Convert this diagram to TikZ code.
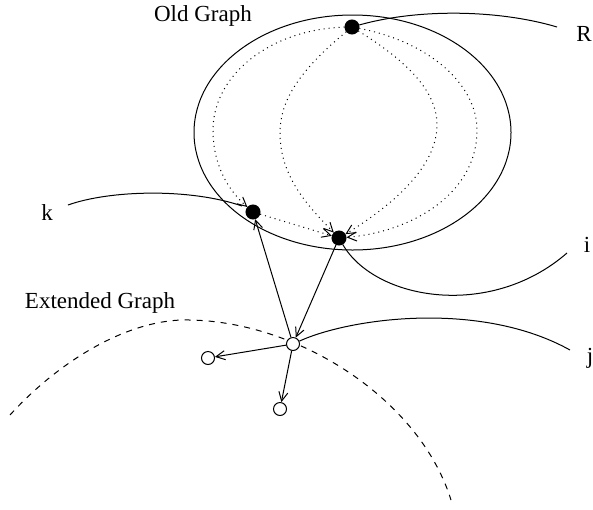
\documentclass[tikz,border=0pt]{standalone}
\usepackage{fontspec}
\setmainfont{Liberation Serif}
\usetikzlibrary{arrows.meta}
\begin{document}
\begin{tikzpicture}[x=0.5pt,y=-0.5pt,line width=0.5pt,
  full/.style={circle,fill=black,draw=black,minimum size=7pt,inner sep=0pt},
  hollow/.style={circle,fill=white,draw=black,minimum size=6.5pt,inner sep=0pt},
  lbl/.style={inner sep=0pt,font=\fontsize{11.5}{13}\selectfont},
  tip/.style={-{Straight Barb[length=4.5pt,width=4.5pt]}},
  dotarrow/.style={tip,dash pattern=on 0.5pt off 2pt},
  dashline/.style={dash pattern=on 3pt off 3pt}]
\useasboundingbox (0,0) rectangle (593,509);
% old graph region
\draw (352.5,132.5) ellipse [x radius=79.25pt, y radius=58.75pt];
% extended graph boundary
\draw[dashline] (10,415) .. controls (60,360) and (130,318) .. (190,320)
   .. controls (300,322) and (420,400) .. (451,500);
% nodes
\node[full] (R) at (352,27) {};
\node[full] (k) at (253,212) {};
\node[full] (i) at (339,238) {};
\node[hollow] (e) at (293,344) {};
\node[hollow] (l) at (208,358) {};
\node[hollow] (b) at (280,409) {};
% free ends
\coordinate (Rend) at (557,27);
\coordinate (kend) at (68,205);
\coordinate (iend) at (567,253);
\coordinate (jend) at (570,350);
% labels
\node[lbl] at (203,16) {Old Graph};
\node[lbl] at (100,303) {Extended Graph};
\node[lbl] at (584,34) {R};
\node[lbl] at (47,213) {k};
\node[lbl] at (587,245) {i};
\node[lbl] at (590,358) {j};
% solid curves
\draw (R) .. controls (420,8) and (500,10) .. (Rend);
\draw (kend) .. controls (110,190) and (190,188) .. (242,206);
\draw (i) .. controls (375,300) and (490,320) .. (iend);
\draw (e) .. controls (350,318) and (480,300) .. (jend);
% dotted arrows
\draw[dotarrow] (R) .. controls (272,29) and (213,74) .. (213,130)
   .. controls (213,165) and (228,190) .. (k);
\draw[dotarrow] (R) .. controls (300,70) and (280,100) .. (280,133)
   .. controls (280,178) and (310,208) .. (i);
\draw[dotarrow] (R) .. controls (405,60) and (437,90) .. (437,125)
   .. controls (437,170) and (385,210) .. (i);
\draw[dotarrow] (R) .. controls (430,42) and (477,85) .. (477,130)
   .. controls (477,195) and (410,232) .. (i);
\draw[dotarrow] (k) -- (i);
% solid arrows
\draw[tip] (e) -- (k);
\draw[tip] (i) -- (e);
\draw[tip] (e) -- (l);
\draw[tip] (e) -- (b);
\end{tikzpicture}
\end{document}
